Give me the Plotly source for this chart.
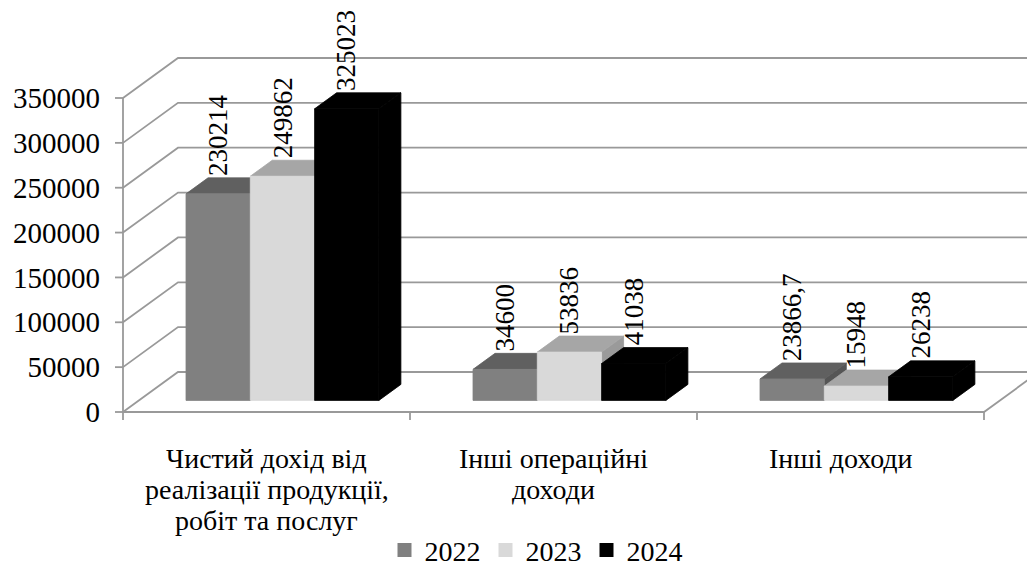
import plotly.graph_objects as go

# ---- data ----
categories = [
    "Чистий дохід від\nреалізації продукції,\nробіт та послуг",
    "Інші операційні\nдоходи",
    "Інші доходи",
]
years = ["2022", "2023", "2024"]
values_2022 = [230214, 34600, 23866.7]
values_2023 = [249862, 53836, 15948]
values_2024 = [325023, 41038, 26238]
y_ticks = [0, 50000, 100000, 150000, 200000, 250000, 300000, 350000]

series = [values_2022, values_2023, values_2024]

# ---- styling ----
FONT = "Liberation Serif"
front_col = ["#808080", "#d9d9d9", "#000000"]
top_col = ["#606060", "#a6a6a6", "#000000"]
side_col = ["#555555", "#9a9a9a", "#000000"]
GRID = "#999999"

W, H = 1027, 561
ML, MB = 113, 141
PX_PER_CAT = 287.0
PX_PER_VAL = 314.0 / 350000
x0 = -0.5 - (123 - ML) / PX_PER_CAT
x_range = [x0, x0 + (W - ML) / PX_PER_CAT]
y_range = [-8 / PX_PER_VAL, 412 / PX_PER_VAL]

# oblique depth: full depth offset on screen (55px right, 40px up)
DX = 55 / PX_PER_CAT
DY = 40 / PX_PER_VAL
D1, D2 = 0.29, 0.69          # depth span of the bars
BW = 64.3 / PX_PER_CAT        # bar width in category units


def proj(x, v, d):
    return x + d * DX, v + d * DY


def poly(pts):
    xs, ys = zip(*[proj(*p) for p in pts])
    return list(xs) + [xs[0]], list(ys) + [ys[0]]


fig = go.Figure()

# ---- walls and floor ----
fx, fy = [], []
for v in y_ticks:
    for p in [(-0.5, v, 0), (-0.5, v, 1), (3.2, v, 1)]:
        px, py = proj(*p)
        fx.append(px); fy.append(py)
    fx.append(None); fy.append(None)
for p in [(-0.5, 350000, 0), (-0.5, 0, 0), (2.5, 0, 0), (2.5, 0, 1), (3.2, 0, 1)]:
    px, py = proj(*p)
    fx.append(px); fy.append(py)
fx.append(None); fy.append(None)
# tick marks on the front axis and between categories
for v in y_ticks:
    fx += [-0.5 - 8 / PX_PER_CAT, -0.5, None]
    fy += [v, v, None]
for xb in [-0.5, 0.5, 1.5, 2.5]:
    fx += [xb, xb, None]
    fy += [0, -8 / PX_PER_VAL, None]
fig.add_trace(go.Scatter(x=fx, y=fy, mode="lines", line=dict(color=GRID, width=1.8),
                         hoverinfo="skip", showlegend=False))

# ---- 3D bars ----
annotations = []
for ci in range(len(categories)):
    for j, vals in enumerate(series):
        v = vals[ci]
        xa = ci - 1.5 * BW + j * BW
        xb = xa + BW
        faces = [
            ([(xb, 0, D1), (xb, 0, D2), (xb, v, D2), (xb, v, D1)], side_col[j]),
            ([(xa, v, D1), (xb, v, D1), (xb, v, D2), (xa, v, D2)], top_col[j]),
            ([(xa, 0, D1), (xb, 0, D1), (xb, v, D1), (xa, v, D1)], front_col[j]),
        ]
        for pts, col in faces:
            px, py = poly(pts)
            fig.add_trace(go.Scatter(x=px, y=py, mode="lines", fill="toself",
                                     fillcolor=col, line=dict(color=col, width=0.8),
                                     hoverinfo="skip", showlegend=False))
        lx, ly = proj((xa + xb) / 2, v, D1)
        _, ly_top = proj(xa, v, D2)
        label = f"{v:g}".replace(".", ",")
        annotations.append(dict(x=lx, y=ly_top, text=label, textangle=-90,
                                xanchor="center", yanchor="bottom", showarrow=False,
                                font=dict(family=FONT, size=27, color="#000000")))

# ---- category labels, one annotation per line ----
LINE = 31
for ci, cat in enumerate(categories):
    for k, line in enumerate(cat.split("\n")):
        annotations.append(dict(x=ci, y=0, text=line, xanchor="center", yanchor="middle",
                                yshift=-(46 + k * LINE), showarrow=False,
                                font=dict(family=FONT, size=28, color="#000000")))

# ---- legend entries ----
for j, yr in enumerate(years):
    fig.add_trace(go.Scatter(x=[None], y=[None], mode="markers", name=yr,
                             marker=dict(symbol="square", size=14, color=front_col[j])))

fig.update_layout(
    width=W, height=H,
    margin=dict(l=ML, r=0, t=0, b=MB, autoexpand=False),
    paper_bgcolor="white", plot_bgcolor="white",
    xaxis=dict(range=x_range, showgrid=False, zeroline=False, showline=False,
               showticklabels=False, ticks="", automargin=False),
    yaxis=dict(range=y_range, showgrid=False, zeroline=False, showline=False,
               tickmode="array", tickvals=y_ticks, ticktext=[str(t) for t in y_ticks],
               ticks="", ticklabelstandoff=12, automargin=False,
               tickfont=dict(family=FONT, size=29, color="#000000")),
    legend=dict(orientation="h", x=0.4628, xanchor="center", y=-0.31, yanchor="middle",
                font=dict(family=FONT, size=28, color="#000000"), itemwidth=30,
                bgcolor="rgba(0,0,0,0)"),
    annotations=annotations,
    showlegend=True,
)

fig.write_html("out.html")
